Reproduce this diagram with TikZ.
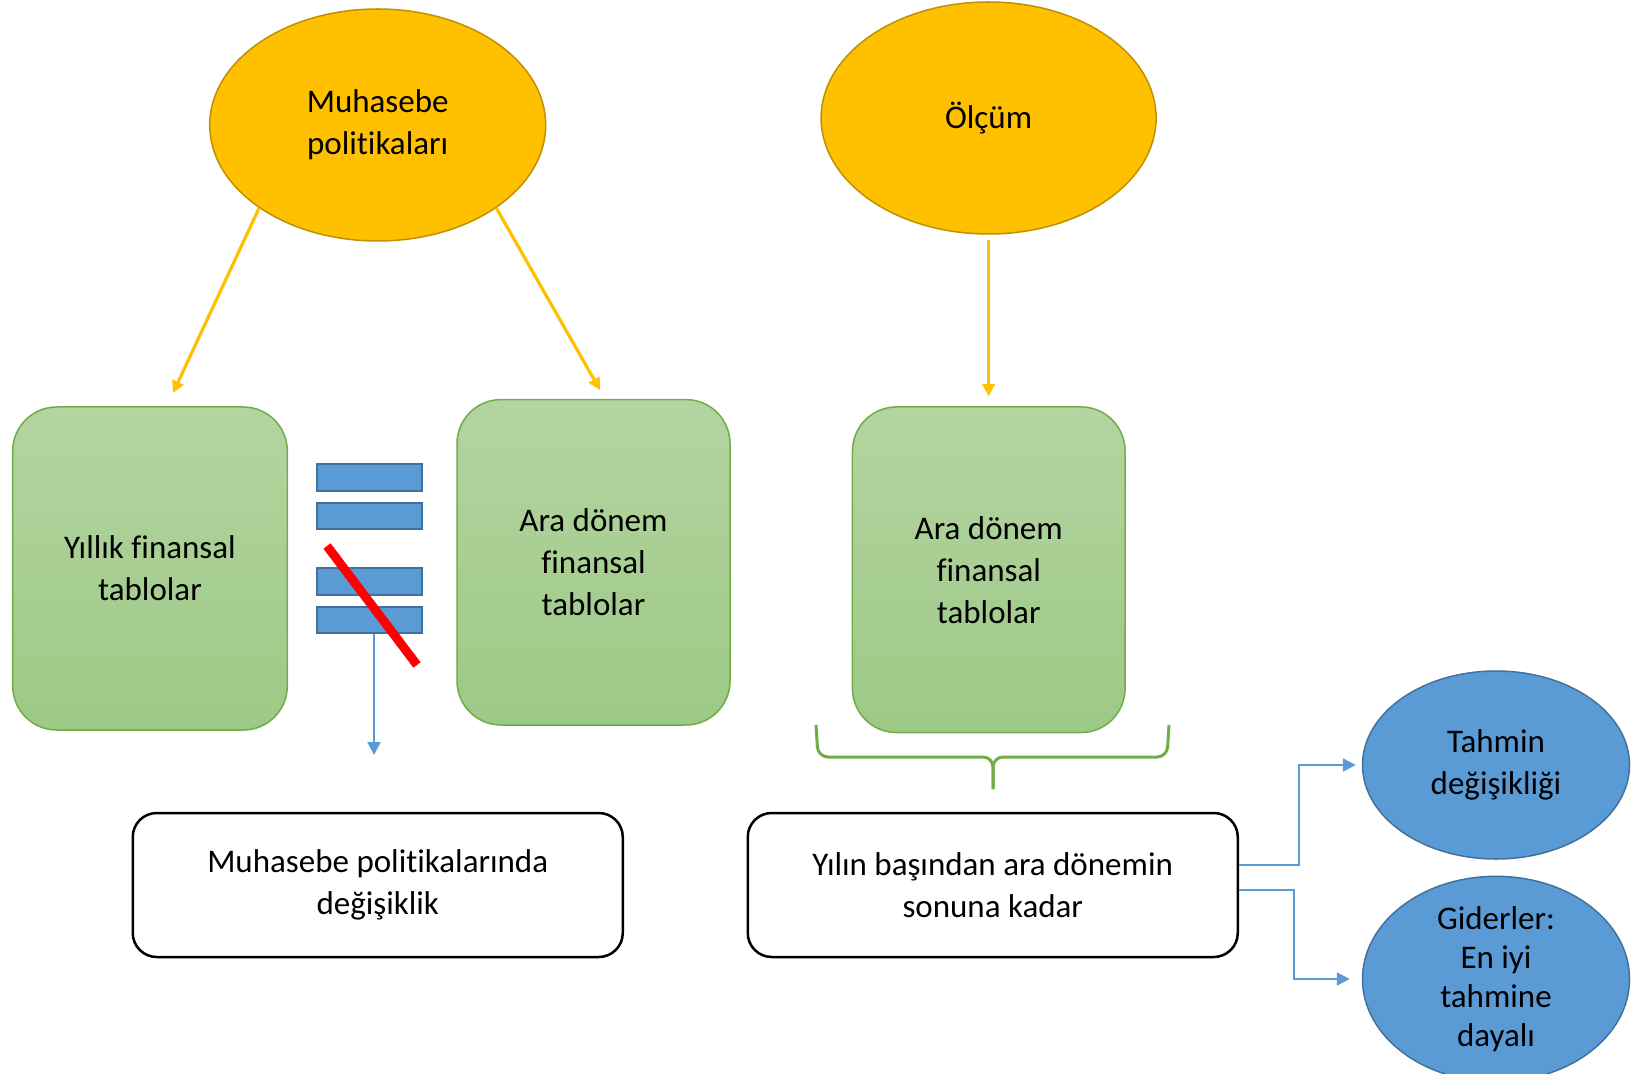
\documentclass[tikz,border=0pt]{standalone}
\usepackage{fontspec}
\setmainfont{Carlito}[Ligatures=NoCommon]
\usetikzlibrary{shapes.geometric,arrows.meta}
\definecolor{sari}{HTML}{FFC000}
\definecolor{sarikenar}{HTML}{BF9000}
\definecolor{yesil}{HTML}{70AD47}
\definecolor{yesilust}{HTML}{B4D4A1}
\definecolor{yesilalt}{HTML}{9DC986}
\definecolor{mavi}{HTML}{5B9BD5}
\definecolor{mavikenar}{HTML}{41719C}
\tikzset{every path/.style={semithick},
  oval/.style={ellipse, draw=sarikenar, fill=sari, line width=0.75pt, minimum width=168pt, minimum height=116pt, inner sep=0pt, align=center},
  tablo/.style={draw=yesil, top color=yesilust, bottom color=yesilalt, rounded corners=22pt, minimum width=136.5pt, minimum height=162pt, align=center, line width=0.75pt},
  kutu/.style={draw, line width=1.25pt, rounded corners=12pt, minimum width=245pt, minimum height=72pt, align=center},
  bulut/.style={ellipse, draw=mavikenar, fill=mavi, line width=0.75pt, minimum width=133.5pt, minimum height=94pt, inner sep=0pt, align=center},
  serit/.style={draw=mavikenar, fill=mavi, minimum width=52.5pt, minimum height=13.3pt, inner sep=0pt, line width=1pt},
  sariok/.style={draw=sari, line width=1.6pt, -{Triangle[length=6pt,width=6pt]}},
  maviok/.style={draw=mavi, line width=1.2pt, -{Triangle[length=6.5pt,width=6.5pt]}}}

\begin{document}
\begin{tikzpicture}[x=0.5pt, y=-0.5pt, font=\fontsize{16.5}{21}\selectfont]
    \useasboundingbox (0,0) rectangle (1636,1074);

    \node[oval] (pol) at (377.7,125) {Muhasebe\\politikaları};
    \node[oval, minimum width=167.5pt] (olcum) at (988.6,118) {Ölçüm};

    \node[tablo, minimum width=137.3pt, minimum height=161.5pt] (yillik) at (150,568.5) {Yıllık finansal\\tablolar};
    \node[tablo, minimum height=162.7pt] (ara1) at (593.5,562.3) {Ara dönem\\finansal\\tablolar};
    \node[tablo, minimum width=136.3pt, minimum height=162.8pt] (ara2) at (988.75,569.75) {Ara dönem\\finansal\\tablolar};

    \node[kutu] (degisim) at (377.75,885) {Muhasebe politikalarında\\değişiklik};
    \node[kutu] (yil) at (992.75,885) {Yılın başından ara dönemin\\sonuna kadar};

    \node[bulut] (tahmin) at (1496,765) {Tahmin\\değişikliği};
    \node[bulut, font=\fontsize{16.5}{19.5}\selectfont] (gider) at (1496,979) {Giderler:\\En iyi\\tahmine\\dayalı};

    \node[serit] (s1) at (369.2,477.3) {};
    \node[serit] (s2) at (369.2,516) {};
    \node[serit] (s3) at (369.2,581.7) {};
    \node[serit] (s4) at (369.2,620) {};

    \coordinate (ya) at (173,393);
    \coordinate (ra) at (600,390);
    \coordinate (alt) at (374,755);
    \draw[sariok] (pol.215) -- (ya);
    \draw[sariok] (pol.325) -- (ra);
    \draw[sariok, shorten <=2.5pt, shorten >=5pt] (olcum.south) -- (olcum.south |- ara2.north);

    \draw[maviok] (s4.south -| alt) -- (alt);
    \draw[red, line width=4.5pt] (327,546) -- (417,665);

    \draw[yesil, line width=1.5pt, rounded corners=5pt] (816,725) -- (818,757) -- (993,757) -- (993,789);
    \draw[yesil, line width=1.5pt, rounded corners=5pt] (1169,725) -- (1167,757) -- (993,757) -- (993,789);

    \draw[maviok, shorten >=3pt] ([yshift=10pt]yil.east) -- ++(60,0) |- (tahmin.west);
    \draw[maviok, shorten >=6pt] ([yshift=-2.5pt]yil.east) -- ++(55,0) |- (gider.west);
\end{tikzpicture}
\end{document}
